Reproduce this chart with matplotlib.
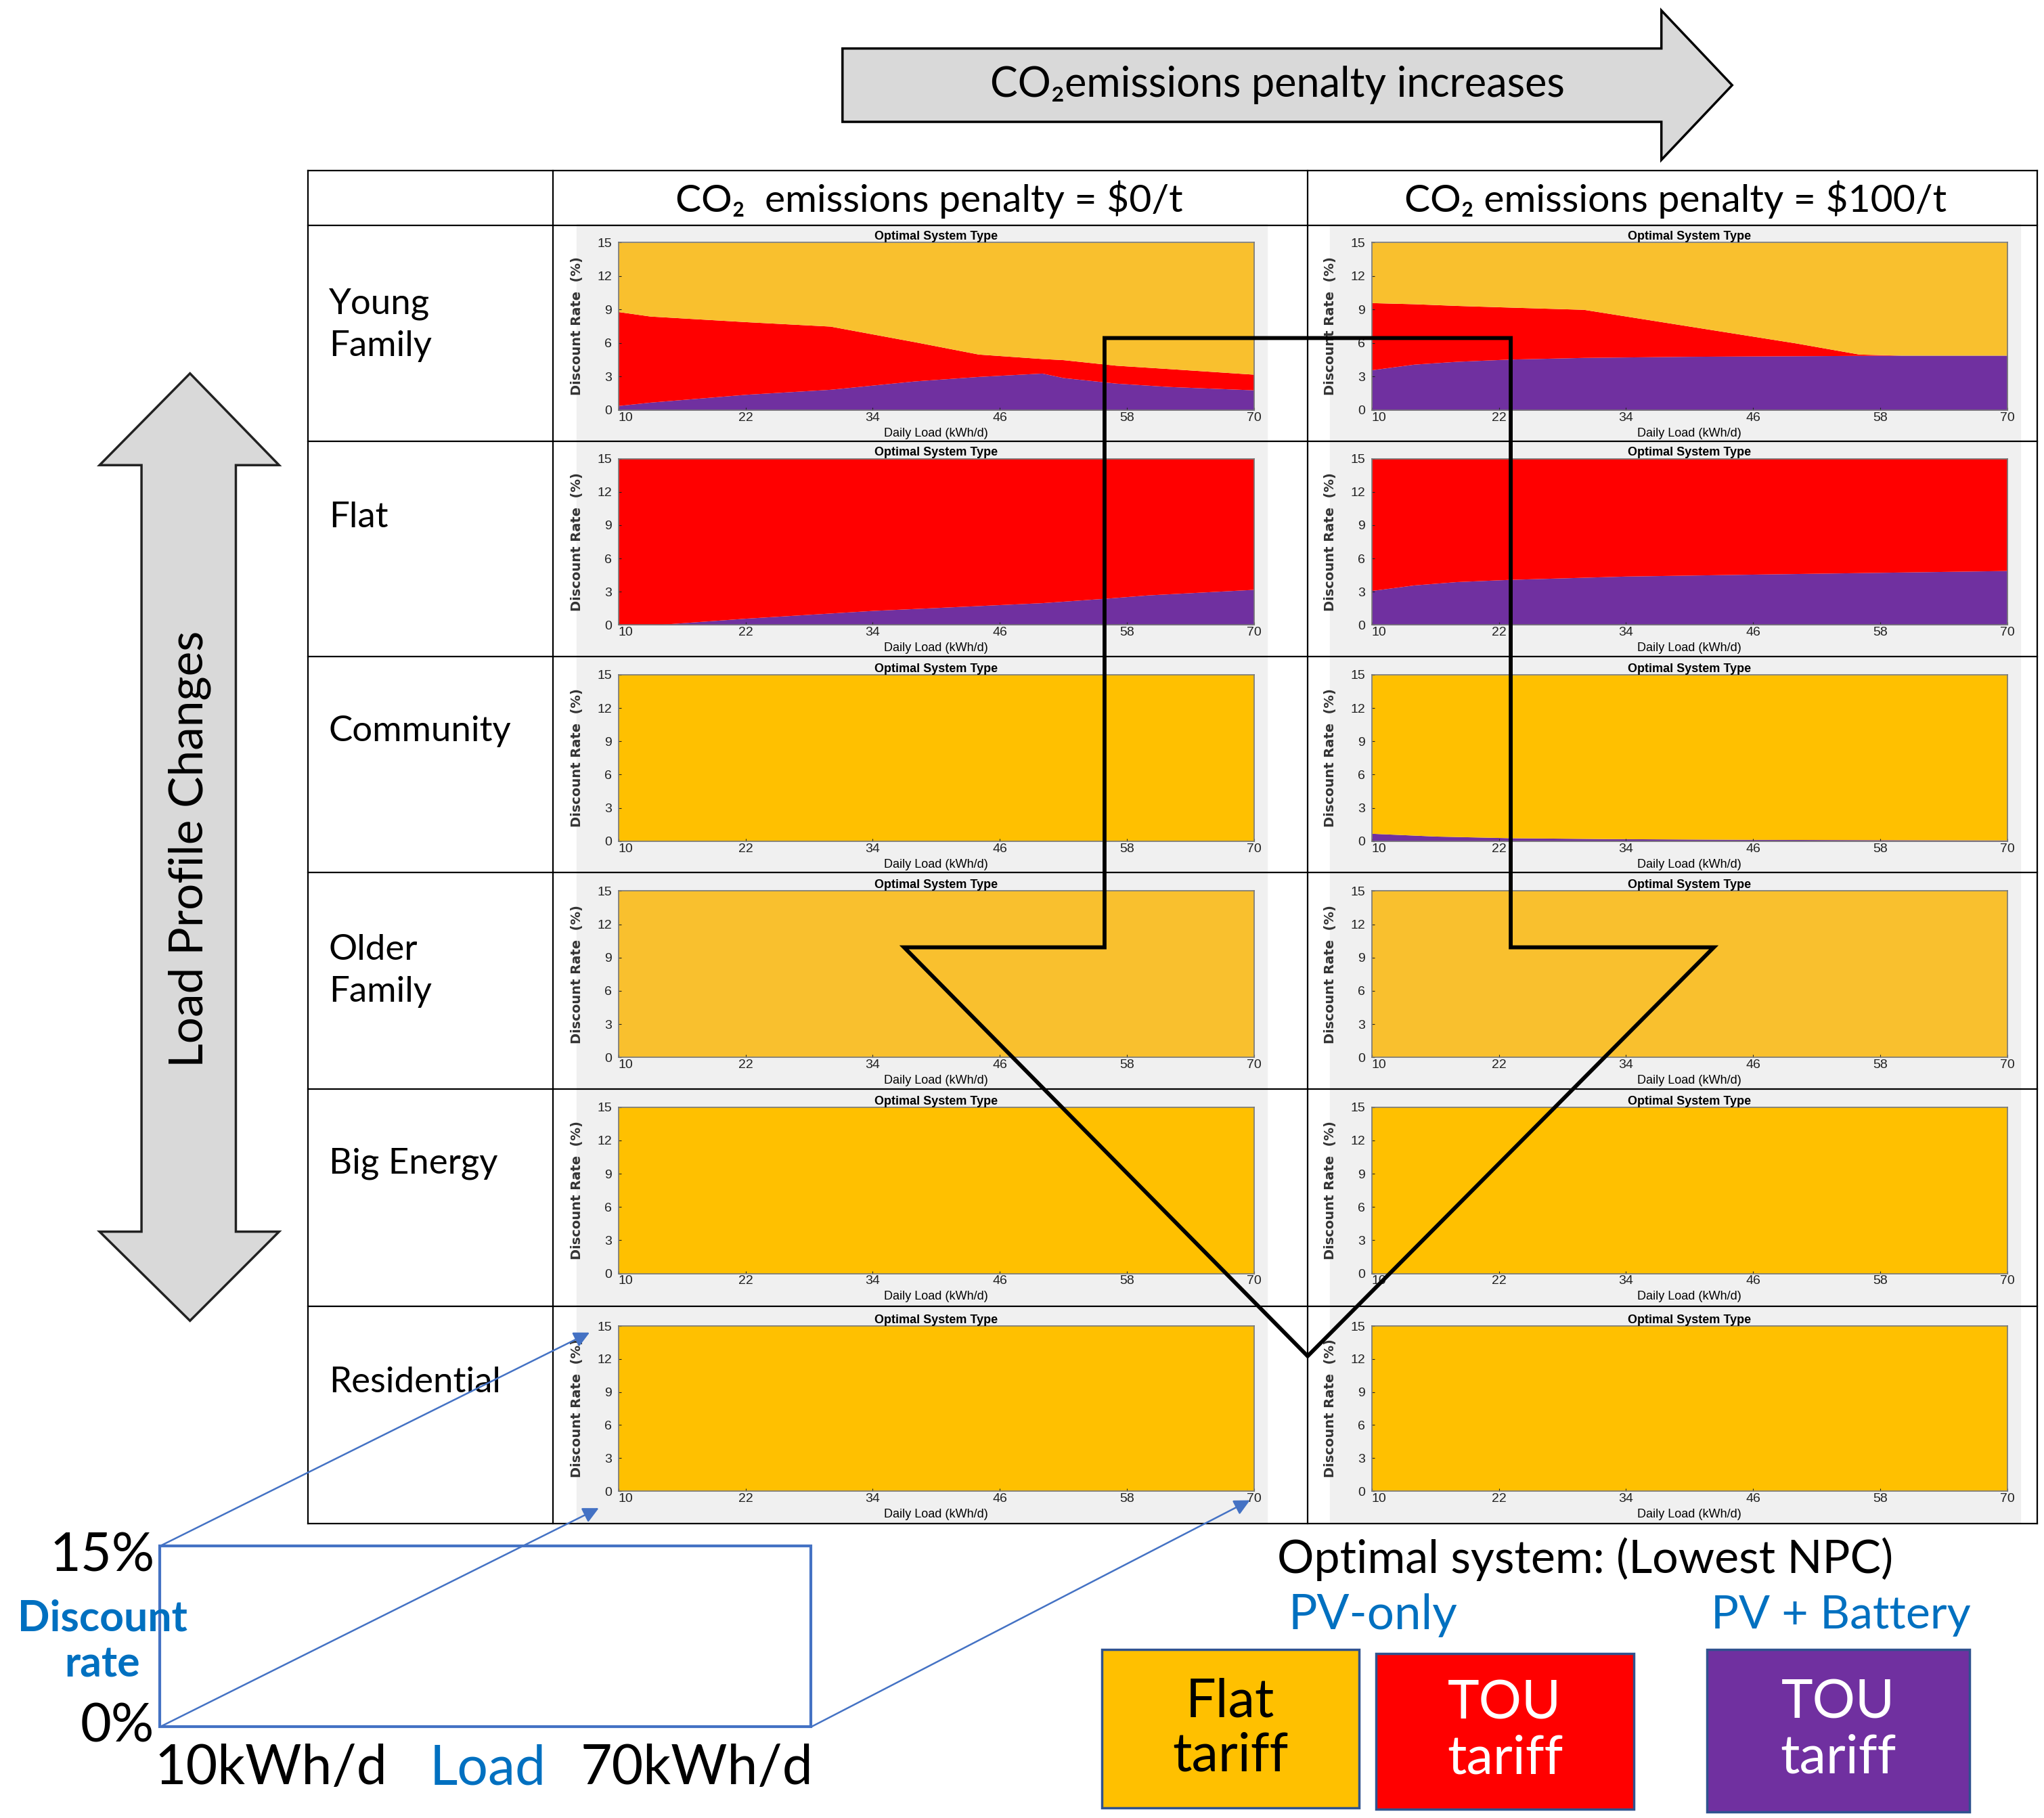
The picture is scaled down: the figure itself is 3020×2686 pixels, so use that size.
import matplotlib.pyplot as plt
from matplotlib.patches import Polygon, Rectangle, FancyArrowPatch
from matplotlib.lines import Line2D

# reference layout measured on a 1560 x 1387.5 grid
W, H = 1560, 1387.5


def fx(x):
    return x / W


def fy(y):
    return 1 - y / H


plt.rcParams['font.family'] = ['Lato', 'DejaVu Sans']
PANEL_FONT = ['Liberation Sans Narrow', 'Liberation Sans', 'DejaVu Sans']

profiles = ['Young\nFamily', 'Flat', 'Community', 'Older\nFamily', 'Big Energy', 'Residential']
penalties = ['CO₂  emissions penalty = \\$0/t', 'CO₂ emissions penalty = \\$100/t']
load_ticks = [10, 22, 34, 46, 58, 70]
rate_ticks = [0, 3, 6, 9, 12, 15]

# boundaries of the optimal-system regions (discount rate %, vs daily load kWh/d)
young0_load = [10, 13, 22, 30, 38, 44, 50, 52, 57, 62, 70]
young0_battery = [0.4, 0.7, 1.4, 1.85, 2.6, 3.0, 3.3, 2.9, 2.4, 2.1, 1.8]
young0_tou = [8.8, 8.4, 7.9, 7.5, 6.1, 5.0, 4.6, 4.5, 4.0, 3.7, 3.2]

young100_load = [10, 14, 18, 23, 30, 40, 50, 56, 60, 70]
young100_battery = [3.6, 4.1, 4.35, 4.55, 4.7, 4.8, 4.85, 4.88, 4.9, 4.9]
young100_tou = [9.6, 9.5, 9.35, 9.2, 9.0, 7.5, 6.0, 5.0, 4.9, 4.9]

flat0_load = [10, 14, 22, 34, 50, 56, 60, 70]
flat0_battery = [0, 0.05, 0.6, 1.3, 2.0, 2.4, 2.7, 3.2]
flat0_tou = [15, 15, 15, 15, 15, 15, 15, 15]

flat100_load = [10, 14, 18, 23, 34, 48, 70]
flat100_battery = [3.1, 3.6, 3.9, 4.1, 4.4, 4.6, 4.9]
flat100_tou = [15, 15, 15, 15, 15, 15, 15]

community100_load = [10, 16, 23, 32, 46, 70]
community100_battery = [0.7, 0.45, 0.3, 0.22, 0.15, 0.1]
community100_tou = [0.7, 0.45, 0.3, 0.22, 0.15, 0.1]

all_flat_load = [10, 70]
all_flat_battery = [0, 0]
all_flat_tou = [0, 0]

ORANGE_A = '#F9C02E'
ORANGE_B = '#FFC000'
RED = '#FF0000'
PURPLE = '#7030A0'

panels = [
    [(young0_load, young0_battery, young0_tou, ORANGE_A),
     (young100_load, young100_battery, young100_tou, ORANGE_A)],
    [(flat0_load, flat0_battery, flat0_tou, ORANGE_A),
     (flat100_load, flat100_battery, flat100_tou, ORANGE_A)],
    [(all_flat_load, all_flat_battery, all_flat_tou, ORANGE_B),
     (community100_load, community100_battery, community100_tou, ORANGE_B)],
    [(all_flat_load, all_flat_battery, all_flat_tou, ORANGE_A),
     (all_flat_load, all_flat_battery, all_flat_tou, ORANGE_A)],
    [(all_flat_load, all_flat_battery, all_flat_tou, ORANGE_B),
     (all_flat_load, all_flat_battery, all_flat_tou, ORANGE_B)],
    [(all_flat_load, all_flat_battery, all_flat_tou, ORANGE_B),
     (all_flat_load, all_flat_battery, all_flat_tou, ORANGE_B)],
]

fig = plt.figure(figsize=(30.2, 26.86), dpi=100)

# ---- table grid
row_lines = [130, 172, 337, 501, 666, 831, 997, 1163]
col_lines = [235, 422, 998, 1555]
for y in row_lines:
    fig.add_artist(Line2D([fx(235), fx(1555)], [fy(y), fy(y)], color='black', lw=1.6,
                          transform=fig.transFigure, zorder=2))
for x in col_lines:
    fig.add_artist(Line2D([fx(x), fx(x)], [fy(130), fy(1163)], color='black', lw=1.6,
                          transform=fig.transFigure, zorder=2))

for j, txt in enumerate(penalties):
    fig.text(fx([709, 1279][j]), fy(152), txt, ha='center', va='center', fontsize=41)

row_label_y = [248, 395, 558, 741, 888, 1055]
for i, txt in enumerate(profiles):
    fig.text(fx(251), fy(row_label_y[i]), txt, ha='left', va='center', fontsize=38,
             linespacing=1.4)

# ---- small optimal-system panels
col_left = [472, 1047]
col_right = [957, 1532]
row_top = [185, 350, 515, 680, 845, 1012]
row_bot = [313, 477, 642, 807, 972, 1138]

for i in range(6):
    for j in range(2):
        load, battery, tou, orange = panels[i][j]
        left, right, top, bot = col_left[j], col_right[j], row_top[i], row_bot[i]
        fig.add_artist(Rectangle((fx(left - 32), fy(bot + 24)), (right - left + 42) / W,
                                 (bot - top + 38) / H, transform=fig.transFigure,
                                 color='#f0f0f0', zorder=-1))
        ax = fig.add_axes([fx(left), fy(bot), (right - left) / W, (bot - top) / H])
        ax.fill_between(load, 0, battery, color=PURPLE, lw=0)
        ax.fill_between(load, battery, tou, color=RED, lw=0)
        ax.fill_between(load, tou, 15, color=orange, lw=0)
        ax.set_xlim(10, 70)
        ax.set_ylim(0, 15)
        ax.set_xticks(load_ticks)
        ax.set_yticks(rate_ticks)
        ax.tick_params(direction='in', length=3, width=0.8, colors='#222222', labelsize=14)
        ax.tick_params(axis='x', pad=2)
        ax.tick_params(axis='y', pad=7)
        for lab in ax.get_xticklabels() + ax.get_yticklabels():
            lab.set_family(PANEL_FONT)
        ax.get_xticklabels()[0].set_horizontalalignment('left')
        for sp in ax.spines.values():
            sp.set_color('#777777')
            sp.set_linewidth(1.2)
        ax.set_title('Optimal System Type', fontsize=13, fontweight='bold', pad=3,
                     family=PANEL_FONT)
        ax.set_xlabel('Daily Load (kWh/d)', fontsize=13, family=PANEL_FONT)
        ax.xaxis.set_label_coords(0.5, -0.105)
        ax.set_ylabel('Discount Rate  (%)', fontsize=14, fontweight='bold', color='#333333',
                      family=['DejaVu Sans'])
        ax.yaxis.set_label_coords(-0.055, 0.5)

# ---- top arrow: penalty increases
top_arrow = [(643, 37), (1268, 37), (1268, 8), (1322, 65), (1268, 122), (1268, 93), (643, 93)]
fig.add_artist(Polygon([(fx(x), fy(y)) for x, y in top_arrow], closed=True,
                       facecolor='#D9D9D9', edgecolor='black', lw=2.5,
                       transform=fig.transFigure, zorder=3))
fig.text(fx(975), fy(65), 'CO₂emissions penalty increases', ha='center', va='center',
         fontsize=44, zorder=4)

# ---- left double arrow: load profile changes
left_arrow = [(145, 285), (213, 355), (180, 355), (180, 940), (213, 940), (145, 1008),
              (76, 940), (108, 940), (108, 355), (76, 355)]
fig.add_artist(Polygon([(fx(x), fy(y)) for x, y in left_arrow], closed=True,
                       facecolor='#D9D9D9', edgecolor='#222222', lw=2.5,
                       transform=fig.transFigure, zorder=3))
fig.text(fx(145), fy(648), 'Load Profile Changes', ha='center', va='center', rotation=90,
         fontsize=50, zorder=4)

# ---- big outlined down arrow over the panels
down_arrow = [(843, 258), (1153, 258), (1153, 723), (1308, 723), (998, 1035), (690, 723),
              (843, 723)]
fig.add_artist(Polygon([(fx(x), fy(y)) for x, y in down_arrow], closed=True,
                       facecolor='none', edgecolor='black', lw=4.2,
                       transform=fig.transFigure, zorder=6))

# ---- key to the axes (bottom left)
BLUE = '#4472C4'
TXT_BLUE = '#0070C0'
fig.add_artist(Rectangle((fx(122), fy(1318)), (619 - 122) / W, (1318 - 1180) / H,
                         facecolor='none', edgecolor=BLUE, lw=3, transform=fig.transFigure))
fig.text(fx(118), fy(1188), '15%', ha='right', va='center', fontsize=57)
fig.text(fx(118), fy(1318), '0%', ha='right', va='center', fontsize=57)
fig.text(fx(78), fy(1253), 'Discount\nrate', ha='center', va='center', fontsize=45,
         fontweight='bold', color=TXT_BLUE, linespacing=1.2)
fig.text(fx(207), fy(1350), '10kWh/d', ha='center', va='center', fontsize=58)
fig.text(fx(372), fy(1350), 'Load', ha='center', va='center', fontsize=58, color=TXT_BLUE)
fig.text(fx(532), fy(1350), '70kWh/d', ha='center', va='center', fontsize=58)

pointers = [((122, 1180), (450, 1017)), ((122, 1318), (457, 1151)), ((619, 1318), (954, 1145))]
for (x0, y0), (x1, y1) in pointers:
    fig.add_artist(FancyArrowPatch((fx(x0), fy(y0)), (fx(x1), fy(y1)), transform=fig.transFigure,
                                   arrowstyle='-|>', mutation_scale=35, color=BLUE, lw=1.8,
                                   shrinkA=0, shrinkB=0, zorder=5))

# ---- legend of system types
fig.text(fx(1210), fy(1190), 'Optimal system: (Lowest NPC)', ha='center', va='center', fontsize=49)
fig.text(fx(1048), fy(1233), 'PV-only', ha='center', va='center', fontsize=51, color=TXT_BLUE)
fig.text(fx(1405), fy(1233), 'PV + Battery', ha='center', va='center', fontsize=49, color=TXT_BLUE)

legend_boxes = [(841, 1037, 1259, 1380, ORANGE_B, 'Flat\ntariff', 'black'),
                (1050, 1247, 1262, 1381, RED, 'TOU\ntariff', 'white'),
                (1303, 1503, 1259, 1383, PURPLE, 'TOU\ntariff', 'white')]
for x0, x1, y0, y1, c, label, tc in legend_boxes:
    fig.add_artist(Rectangle((fx(x0), fy(y1)), (x1 - x0) / W, (y1 - y0) / H, facecolor=c,
                             edgecolor='#2F528F', lw=2.5, transform=fig.transFigure))
    fig.text(fx((x0 + x1) / 2), fy((y0 + y1) / 2), label, ha='center', va='center',
             fontsize=57, color=tc, linespacing=1.15)

fig.savefig('out.png', dpi=100, facecolor='white')
